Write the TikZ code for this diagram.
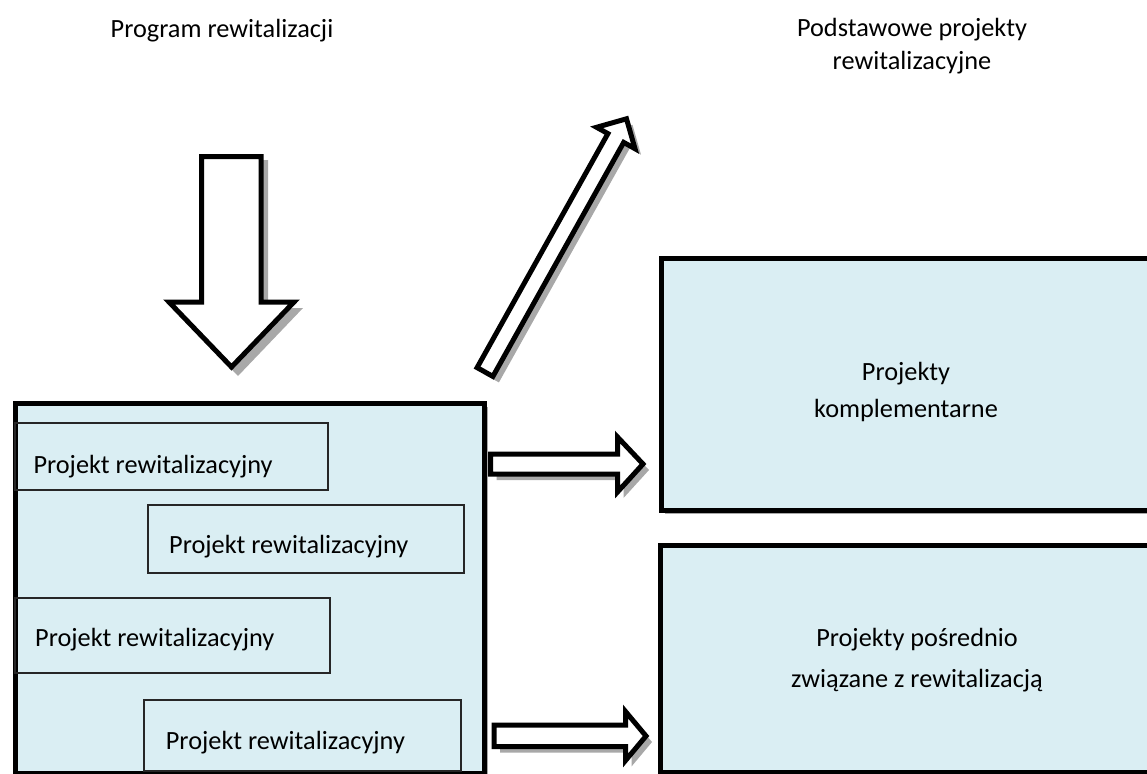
\documentclass[tikz,border=0pt]{standalone}
\usepackage{fontspec}
\setmainfont{Carlito}
\definecolor{boxblue}{HTML}{DAEEF3}
\definecolor{shade}{HTML}{A8A8A8}
\begin{document}
\begin{tikzpicture}[x=1pt,y=-1pt,
  lbl/.style={inner sep=0pt, font=\fontsize{26.3}{37}\selectfont, text=black},
  bigbox/.style={draw=black, line width=5pt, fill=boxblue},
  projbox/.style={draw=black!85, line width=2pt},
  blockarrow/.style={draw=black, line width=5pt, fill=white, line join=miter},
  shadowfill/.style={fill=shade, draw=none}]
\useasboundingbox (0,0) rectangle (1147,773);
\clip (0,0) rectangle (1147,773);

% ---- titles
\node[lbl, anchor=base] (title1) at (222,38) {Program rewitalizacji};
\node[lbl, anchor=base, align=center] (title2) at (912,70) {Podstawowe projekty\\[-4pt]rewitalizacyjne};

% ---- down arrow
\fill[shadowfill] (207,160) -- (268,160) -- (268,308) -- (303,308) -- (238,376) -- (173,308) -- (207,308) -- cycle;
\draw[blockarrow] (201.5,156.5) -- (261,156.5) -- (261,302) -- (294,302) -- (231.5,367) -- (169,302) -- (201.5,302) -- cycle;

% ---- diagonal arrow
\fill[shadowfill] (483.1,373.6) -- (613.9,139.6) -- (602.6,133.3) -- (632.5,124.8) -- (641.0,154.7) -- (629.7,148.4) -- (498.9,382.4) -- cycle;
\draw[blockarrow] (477.1,367.6) -- (607.9,133.6) -- (596.6,127.3) -- (626.5,118.8) -- (635.0,148.7) -- (623.7,142.4) -- (492.9,376.4) -- cycle;

% ---- main box
\fill[shadowfill] (18.5,406.5) rectangle (488,777);
\node[bigbox, minimum width=469.5pt, minimum height=370.5pt, anchor=north west, inner sep=0pt] (main) at (12.5,400.5) {};
\draw[projbox] (15,423.3) rectangle (328.3,490);
\draw[projbox] (147.7,505) rectangle (464,573.3);
\draw[projbox] (15,597.7) rectangle (330.3,673.3);
\draw[projbox] (144.3,700) rectangle (461.3,771);
\draw[line width=5pt] (main.south west) -- (main.south east);
\node[lbl, anchor=base west] (p1) at (33.3,473.3) {Projekt rewitalizacyjny};
\node[lbl, anchor=base west] (p2) at (169,553.3) {Projekt rewitalizacyjny};
\node[lbl, anchor=base west] (p3) at (35,646.7) {Projekt rewitalizacyjny};
\node[lbl, anchor=base west] (p4) at (165.7,749.3) {Projekt rewitalizacyjny};

% ---- right boxes
\fill[shadowfill] (664.5,261.5) rectangle (1170,513.5);
\node[bigbox, minimum width=510pt, minimum height=252pt, anchor=north west, inner sep=0pt] (kompl) at (658.5,255.5) {};
\node[lbl, anchor=base, align=center] (kt) at (906,417) {Projekty\\komplementarne};

\fill[shadowfill] (664,549) rectangle (1170,780);
\node[bigbox, minimum width=510pt, minimum height=227pt, anchor=north west, inner sep=0pt] (posr) at (658,543) {};
\node[lbl, anchor=base, align=center] (pt) at (917,687) {Projekty pośrednio\\[4pt]związane z rewitalizacją};

% ---- right arrows
\fill[shadowfill] (496.5,460) -- (623.5,460) -- (623.5,443) -- (649,470) -- (623.5,498) -- (623.5,480) -- (496.5,480) -- cycle;
\draw[blockarrow] (490.5,454) -- (617.5,454) -- (617.5,437) -- (643,464) -- (617.5,492) -- (617.5,474) -- (490.5,474) -- cycle;

\fill[shadowfill] (500,731) -- (631.5,731) -- (631.5,717.5) -- (652,742) -- (631.5,766.5) -- (631.5,752.5) -- (500,752.5) -- cycle;
\draw[blockarrow] (494,725) -- (625.5,725) -- (625.5,711.5) -- (646,736) -- (625.5,760.5) -- (625.5,746.5) -- (494,746.5) -- cycle;
\end{tikzpicture}
\end{document}
